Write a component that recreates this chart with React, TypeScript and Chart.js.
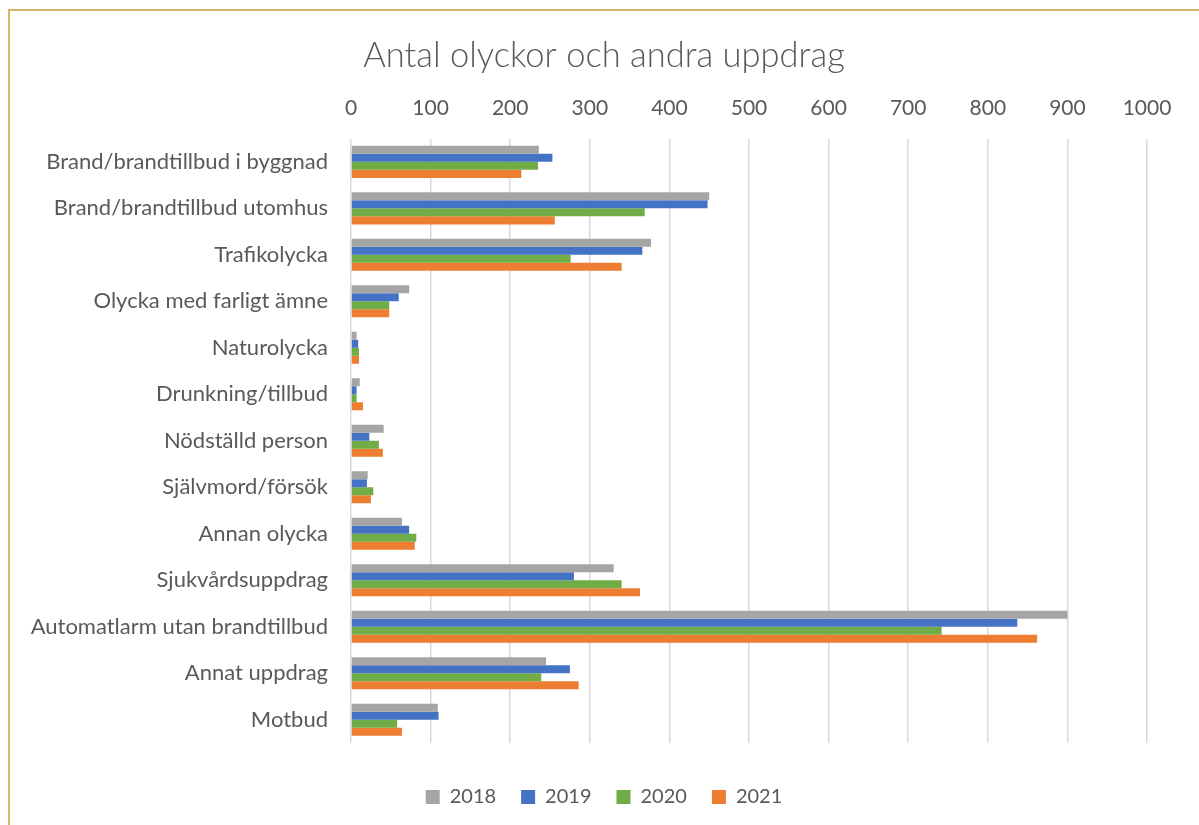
import React, { useEffect, useRef } from "react";
import { Chart, registerables } from "chart.js";

Chart.register(...registerables);

const categories = [
  "Brand/brandtillbud i byggnad",
  "Brand/brandtillbud utomhus",
  "Trafikolycka",
  "Olycka med farligt ämne",
  "Naturolycka",
  "Drunkning/tillbud",
  "Nödställd person",
  "Självmord/försök",
  "Annan olycka",
  "Sjukvårdsuppdrag",
  "Automatlarm utan brandtillbud",
  "Annat uppdrag",
  "Motbud",
];

const values2018 = [236, 450, 377, 73, 7, 11, 41, 21, 64, 330, 900, 245, 109];
const values2019 = [253, 448, 366, 60, 9, 7, 23, 20, 73, 280, 837, 275, 110];
const values2020 = [235, 369, 276, 48, 10, 7, 35, 28, 82, 340, 742, 239, 58];
const values2021 = [214, 256, 340, 48, 10, 15, 40, 25, 80, 363, 862, 286, 64];

const seriesNames = ["2018", "2019", "2020", "2021"];
const xTicks = [0, 100, 200, 300, 400, 500, 600, 700, 800, 900, 1000];

const TEXT = "#595959";
const FONT = "Lato, 'Open Sans', sans-serif";

export default function App() {
  const ref = useRef<HTMLCanvasElement | null>(null);

  useEffect(() => {
    if (!ref.current) return;
    const colors = ["#A5A5A5", "#4472C4", "#70AD47", "#ED7D31"];
    const all = [values2018, values2019, values2020, values2021];
    const chart = new Chart(ref.current, {
      type: "bar",
      data: {
        labels: categories,
        datasets: all.map((d, i) => ({
          label: seriesNames[i],
          data: d,
          xAxisID: "x",
          yAxisID: "y",
          backgroundColor: colors[i],
          borderWidth: 0,
          categoryPercentage: 0.69,
          barPercentage: 1.0,
        })),
      },
      options: {
        indexAxis: "y",
        animation: false,
        responsive: false,
        maintainAspectRatio: false,
        layout: { padding: { left: 0, right: 0, top: 0, bottom: 8 } },
        plugins: {
          title: {
            display: true,
            text: "Antal olyckor och andra uppdrag",
            color: TEXT,
            font: { family: FONT, size: 34.5, weight: "300" },
            padding: { top: 35, bottom: 0 },
          },
          legend: {
            position: "bottom",
            labels: {
              color: TEXT,
              font: { family: FONT, size: 20 },
              boxWidth: 14,
              boxHeight: 14,
              padding: 25,
            },
          },
          tooltip: { enabled: false },
        },
        scales: {
          x: {
            position: "top",
            min: 0,
            max: 1000,
            afterBuildTicks: (scale: any) => {
              scale.ticks = xTicks.map((v) => ({ value: v }));
            },
            afterFit: (scale: any) => {
              scale.height = 62.2;
            },
            ticks: {
              color: TEXT,
              font: { family: FONT, size: 21 },
              padding: 18,
              maxRotation: 0,
              callback: (v: any) => String(v),
            },
            grid: { color: "#D9D9D9", lineWidth: 1.5, drawTicks: false },
            border: { display: false },
          },
          x2: {
            type: "linear",
            position: "bottom",
            display: true,
            min: 0,
            max: 1000,
            afterFit: (scale: any) => {
              scale.height = 19;
            },
            ticks: { display: false },
            grid: { display: false, drawTicks: false },
            border: { display: false },
          },
          y: {
            afterFit: (scale: any) => {
              scale.width = 351;
            },
            ticks: {
              color: TEXT,
              font: { family: FONT, size: 22 },
              padding: 23,
              autoSkip: false,
            },
            grid: { display: false, drawTicks: false },
            border: { display: false },
          },
          y2: {
            type: "linear",
            position: "right",
            display: true,
            afterFit: (scale: any) => {
              scale.width = 61;
            },
            ticks: { display: false },
            grid: { display: false, drawTicks: false },
            border: { display: false },
          },
        },
      },
    });
    return () => chart.destroy();
  }, []);

  return (
    <div
      style={{
        position: "absolute",
        left: 0,
        top: 0,
        width: 1199,
        height: 825,
        overflow: "hidden",
        background: "#fff",
      }}
    >
      <canvas
        ref={ref}
        width={1208}
        height={825}
        style={{ position: "absolute", left: 0, top: 0, width: 1208, height: 825 }}
      />
      <div
        style={{
          position: "absolute",
          left: 8,
          top: 9,
          width: 1400,
          height: 1000,
          border: "2px solid #DAB462",
          boxSizing: "border-box",
          pointerEvents: "none",
        }}
      />
    </div>
  );
}
